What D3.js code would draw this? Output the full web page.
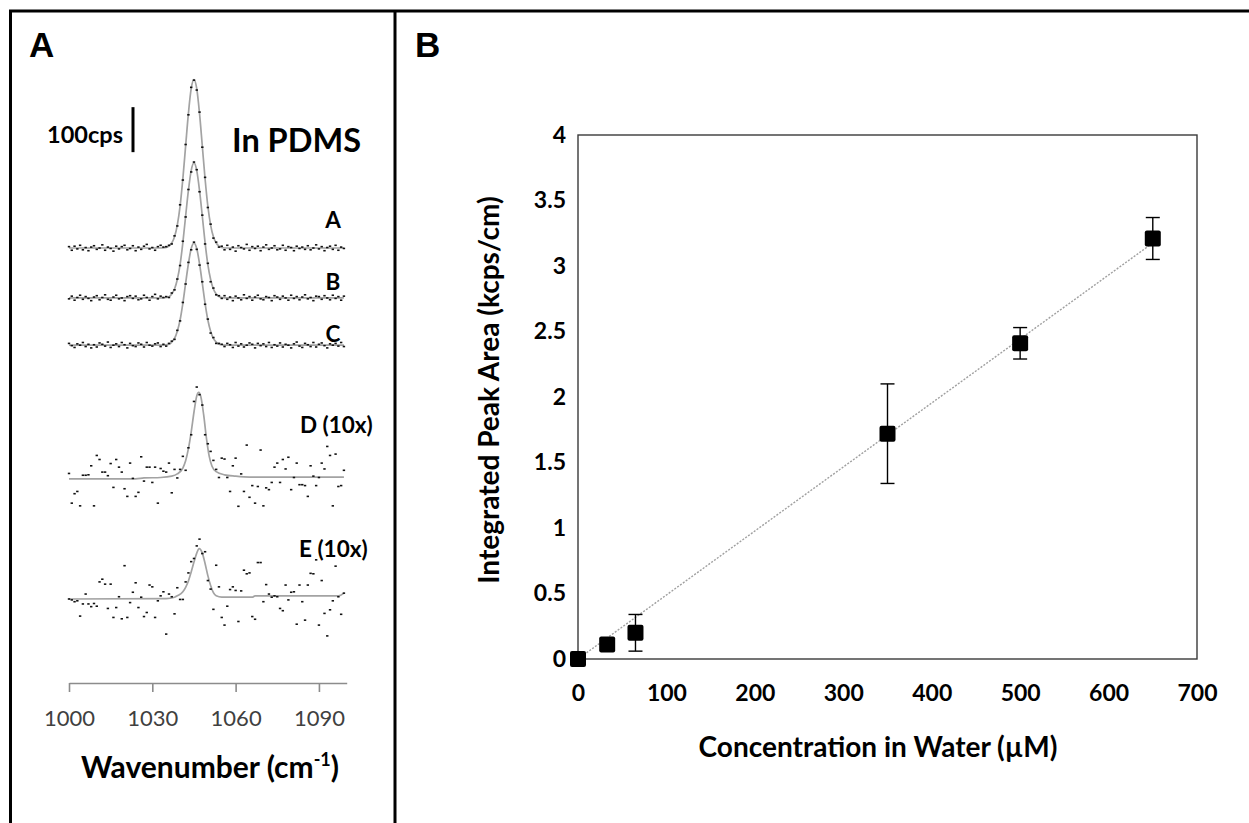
<!DOCTYPE html>
<html>
<head>
<meta charset="utf-8">
<script src="https://cdn.jsdelivr.net/npm/d3@7"></script>
<style>
  body { margin: 0; background: #fff; }
  svg { display: block; }
</style>
</head>
<body>
<svg id="fig" width="1249" height="823"></svg>
<script>
// ---------------- Panel A: Raman spectra in PDMS ----------------
const wavenumbers = d3.range(1000, 1100);          // cm-1, 1 cm-1 sampling
const waveTicks = [1000, 1030, 1060, 1090];

// measured intensities (cps) per spectrum
const specA = [3,-5,4,-2,6,-4,1,-6,2,5,
  -3,0,7,-5,2,-1,-7,4,-2,3,
  6,-4,-1,5,-6,2,-3,4,8,-2,
  1,-5,3,6,2,3,6,9,27,49,
  96,151,230,296,357,373,351,302,224,157,
  90,53,22,13,2,4,-4,6,-3,2,
  -7,5,1,-2,8,-5,3,-1,4,-6,
  2,7,-3,0,5,-4,-2,6,-5,3,
  1,-6,4,-1,2,-3,5,-4,0,7,
  -2,3,-6,1,4,-3,6,-5,2,-1];
const specB = [-2,4,-5,1,6,-3,3,-1,-6,2,
  5,-4,1,7,-3,-5,2,6,-2,0,
  -6,3,5,-1,4,-4,-2,6,1,-5,
  3,8,-2,4,1,3,1,11,18,42,
  72,126,180,241,280,302,285,236,184,120,
  77,36,22,7,5,-1,5,-3,2,-6,
  4,0,-4,7,-1,3,-5,2,6,-2,
  -4,3,1,-6,5,2,-3,4,0,-5,
  6,-1,3,-4,2,7,-2,1,-6,4,
  3,-3,5,0,-4,6,-1,3,-5,4];
const specC = [4,-1,-5,3,0,6,-3,2,-6,1,
  -4,5,2,-2,7,-5,0,3,-3,6,
  1,-6,4,-1,-3,5,2,-4,6,0,
  -2,3,5,-3,2,-2,4,9,13,33,
  54,95,136,184,212,229,213,178,141,91,
  58,27,17,4,4,2,-3,4,1,-5,
  6,-2,3,-4,0,5,2,-6,4,-1,
  3,-3,6,-5,1,-2,5,-4,2,0,
  -6,3,7,-2,-5,4,1,-3,6,-4,
  2,5,-1,-6,3,0,4,-2,6,-3];
const specD = [1.0,-5.6,-3.5,-3.0,-6.2,0.6,0.6,0.7,2.7,-6.2,
  5.0,4.1,1.3,1.3,0.5,3.2,-2.1,4.1,2.4,1.3,
  -2.4,-4.1,3.3,-0.1,-4.1,-3.2,4.7,-0.7,2.4,2.4,
  -1.0,2.4,-5.6,2.1,1.5,1.3,3.3,-3.3,1.9,0.0,
  1.9,4.8,1.7,6.7,9.6,17.0,20.2,18.5,16.2,9.6,
  7.6,5.9,3.9,1.9,0.1,4.4,4.2,0.1,-3.0,2.7,
  4.4,-6.3,0.9,-3.0,7.3,-4.3,-1.7,-5.6,-1.9,6.2,
  -6.2,-2.2,-2.6,-1.0,2.4,3.3,-1.0,4.1,2.0,4.6,
  -2.6,0.1,3.3,-1.5,-1.5,-1.7,-4.1,2.7,0.4,-1.7,
  0.1,3.3,2.0,7.0,5.0,-6.2,5.3,-1.9,-1.7,1.7];
const specE = [0.0,-0.2,-0.6,-0.4,-3.8,-1.1,1.1,-1.1,-1.7,-1.0,
  -1.6,3.8,4.4,3.3,-2.1,3.3,-4.1,-1.9,0.5,-4.4,
  7.4,-4.1,-0.8,1.5,3.6,-1.9,0.4,-3.9,-3.0,3.1,
  2.7,-4.1,-0.4,0.7,1.6,-7.8,1.1,0.5,-3.3,2.5,
  -0.1,-0.1,3.8,5.8,8.3,9.0,11.8,13.3,10.1,10.5,
  4.1,2.2,-2.3,7.5,2.7,-4.1,-5.8,-1.6,2.1,2.7,
  1.9,-5.0,1.8,6.4,5.6,5.8,-3.9,-4.5,8.1,8.1,
  -0.6,3.2,1.1,0.4,0.7,0.5,-2.1,-2.6,3.1,-0.2,
  1.5,1.6,-5.6,3.1,-0.6,-4.7,3.1,5.7,5.6,8.7,
  -5.8,4.1,-3.2,-8.2,-2.4,-0.4,7.3,0.5,-3.4,1.3];

// fitted peak profiles: [wavenumber, cps]
const fitA = [[1000,0],[1034,0],[1035,1],[1036,4],[1037,11],[1038,25],[1039,51],[1040,93],[1041,154],[1042,227],[1043,299],[1044,354],[1045,374],[1046,354],[1047,299],[1048,227],[1049,154],[1050,93],[1051,51],[1052,25],[1053,11],[1054,4],[1055,1],[1056,0],[1099,0]];
const fitB = [[1000,0],[1034,0],[1035,1],[1036,3],[1037,9],[1038,20],[1039,41],[1040,74],[1041,123],[1042,182],[1043,239],[1044,283],[1045,300],[1046,283],[1047,239],[1048,182],[1049,123],[1050,74],[1051,41],[1052,20],[1053,9],[1054,3],[1055,1],[1056,0],[1099,0]];
const fitC = [[1000,0],[1034,0],[1035,1],[1036,2],[1037,7],[1038,15],[1039,31],[1040,56],[1041,93],[1042,138],[1043,181],[1044,215],[1045,227],[1046,215],[1047,181],[1048,138],[1049,93],[1050,56],[1051,31],[1052,15],[1053,7],[1054,2],[1055,1],[1056,0],[1099,0]];
const fitD = [[1000,-0.2],[1024,-0.2],[1027,0],[1033,0.1],[1037,0.4],[1039,0.9],[1041,2.2],[1042,3.8],[1043,6.5],[1044,10.2],[1045,14.6],[1046,18.2],[1046.7,19.0],[1047.5,18.0],[1048.5,14.0],[1049.5,8.8],[1050.5,4.8],[1051.5,2.6],[1053,1.4],[1056,0.7],[1060,0.4],[1065,0.2],[1099,0.2]];
const fitE = [[1000,0],[1035,0.1],[1038,0.4],[1039,0.7],[1041,1.6],[1042,2.6],[1043,4.0],[1044,6.0],[1045,8.2],[1046,10.2],[1046.9,11.2],[1048,10.2],[1049,7.9],[1050,5.2],[1051,3.0],[1052,1.4],[1053,0.7],[1055,0.4],[1066,0.4],[1067,0.7],[1097,0.7],[1099,1.3]];

const spectrumNames = ["A", "B", "C", "D (10x)", "E (10x)"];
const magnification = [1, 1, 1, 10, 10];
const stackOffset = [780, 669, 564, 269, 0];       // cps, vertical stacking
const scaleBarCps = 100;

// ---------------- Panel B: calibration ----------------
const concentration = [0, 33, 65, 350, 500, 650];          // µM
const peakArea = [0, 0.11, 0.20, 1.72, 2.41, 3.21];         // kcps/cm
const peakAreaErr = [0.01, 0.02, 0.14, 0.38, 0.12, 0.16];
const concTicks = [0, 100, 200, 300, 400, 500, 600, 700];
const areaTicks = [0, 0.5, 1, 1.5, 2, 2.5, 3, 3.5, 4];

// ---------------- drawing ----------------
const svg = d3.select("#fig");
const FONT = "Lato, 'Open Sans', 'DejaVu Sans', sans-serif";

// figure frame
svg.append("path")
  .attr("d", "M9,11H1249M10.5,10V823M395,10V823")
  .attr("fill", "none").attr("stroke", "#000").attr("stroke-width", 3);

// panel letters
[["A", 29], ["B", 415]].forEach(([t, x]) => {
  svg.append("text").attr("x", x).attr("y", 57).text(t)
    .attr("font-family", "'Liberation Sans', Arial, sans-serif")
    .attr("font-weight", 700).attr("font-size", 35);
});

// ---- Panel A ----
const xA = d3.scaleLinear().domain([1000, 1100]).range([69, 346.7]);
const yA = d3.scaleLinear().domain([0, 1000]).range([599, 149]);

const gA = svg.append("g");
const spectra = [specA, specB, specC, specD, specE];
const fits = [fitA, fitB, fitC, fitD, fitE];
const labelPos = [[333, 228, "middle"], [333, 290, "middle"], [333, 342, "middle"], [300, 433, "start"], [299, 557, "start"]];

spectra.forEach((vals, i) => {
  const off = stackOffset[i], mag = magnification[i];
  const line = d3.line()
    .x(d => xA(d[0]))
    .y(d => yA(off + d[1] * mag))
    .curve(d3.curveMonotoneX);
  gA.append("path").datum(fits[i]).attr("d", line)
    .attr("fill", "none").attr("stroke", "#a3a3a3").attr("stroke-width", 1.7);
  gA.append("g").selectAll("rect").data(vals).join("rect")
    .attr("x", (d, j) => xA(wavenumbers[j]) - 1.2)
    .attr("y", d => yA(off + d * mag) - 0.8)
    .attr("width", 2.4).attr("height", 1.6)
    .attr("fill", "#111");
  const [lx, ly, anchor] = labelPos[i];
  gA.append("text").attr("x", lx).attr("y", ly).attr("text-anchor", anchor)
    .attr("font-family", FONT).attr("font-weight", 700).attr("font-size", 22.5)
    .text(spectrumNames[i]);
});

// intensity scale bar
gA.append("line")
  .attr("x1", 133).attr("x2", 133)
  .attr("y1", yA(993)).attr("y2", yA(993 + scaleBarCps))
  .attr("stroke", "#000").attr("stroke-width", 3);
gA.append("text").attr("x", 123).attr("y", 143).attr("text-anchor", "end")
  .attr("font-family", FONT).attr("font-weight", 700).attr("font-size", 23.5)
  .text(scaleBarCps + "cps");
gA.append("text").attr("x", 232).attr("y", 152)
  .attr("font-family", FONT).attr("font-weight", 700).attr("font-size", 32.5)
  .text("In PDMS");

// wavenumber axis
const axA = gA.append("g").attr("transform", "translate(0,683)")
  .call(d3.axisBottom(xA).tickValues(waveTicks).tickSize(9).tickSizeOuter(0)
    .tickPadding(18).tickFormat(d3.format("d")));
axA.select(".domain").attr("stroke", "#8c8c8c").attr("stroke-width", 1.6);
axA.selectAll(".tick line").attr("stroke", "#8c8c8c").attr("stroke-width", 1.6);
axA.selectAll(".tick text").attr("font-family", FONT).attr("font-size", 22).attr("fill", "#404040");

const tA = gA.append("text").attr("x", 210).attr("y", 778).attr("text-anchor", "middle")
  .attr("font-family", FONT).attr("font-weight", 700).attr("font-size", 30);
tA.append("tspan").text("Wavenumber (cm");
tA.append("tspan").attr("font-size", 18).attr("dy", -12).text("-1");
tA.append("tspan").attr("dy", 12).text(")");

// ---- Panel B ----
const xB = d3.scaleLinear().domain([0, 700]).range([578, 1197]);
const yB = d3.scaleLinear().domain([0, 4]).range([659, 135]);
const gB = svg.append("g");

gB.append("rect")
  .attr("x", xB(0)).attr("y", yB(4))
  .attr("width", xB(700) - xB(0)).attr("height", yB(0) - yB(4))
  .attr("fill", "none").attr("stroke", "#3a3a3a").attr("stroke-width", 1.4);

const axBy = gB.append("g").attr("transform", `translate(${xB(0)},0)`)
  .call(d3.axisLeft(yB).tickValues(areaTicks).tickSize(0).tickPadding(12).tickFormat(d3.format("~g")));
axBy.select(".domain").remove();
axBy.selectAll(".tick text").attr("font-family", FONT).attr("font-weight", 700)
  .attr("font-size", 23).attr("fill", "#000");

const axBx = gB.append("g").attr("transform", `translate(0,${yB(0)})`)
  .call(d3.axisBottom(xB).tickValues(concTicks).tickSize(0).tickPadding(26).tickFormat(d3.format("d")));
axBx.select(".domain").remove();
axBx.selectAll(".tick text").attr("font-family", FONT).attr("font-weight", 700)
  .attr("font-size", 23).attr("fill", "#000");

// linear fit through the origin
const slope = d3.sum(concentration, (c, i) => c * peakArea[i]) / d3.sum(concentration, c => c * c);
const cMax = d3.max(concentration);
gB.append("line")
  .attr("x1", xB(0)).attr("y1", yB(0))
  .attr("x2", xB(cMax)).attr("y2", yB(slope * cMax))
  .attr("stroke", "#a0a0a0").attr("stroke-width", 1.4).attr("stroke-dasharray", "2,1.5");

// error bars
const eb = gB.append("g").attr("stroke", "#000").attr("stroke-width", 1.4);
concentration.forEach((c, i) => {
  const x = xB(c), y0 = yB(peakArea[i] - peakAreaErr[i]), y1 = yB(peakArea[i] + peakAreaErr[i]);
  eb.append("line").attr("x1", x).attr("x2", x).attr("y1", y0).attr("y2", y1);
  eb.append("line").attr("x1", x - 7).attr("x2", x + 7).attr("y1", y0).attr("y2", y0);
  eb.append("line").attr("x1", x - 7).attr("x2", x + 7).attr("y1", y1).attr("y2", y1);
});

// markers
gB.append("g").selectAll("rect").data(concentration).join("rect")
  .attr("x", d => xB(d) - 8)
  .attr("y", (d, i) => yB(peakArea[i]) - 8)
  .attr("width", 16).attr("height", 16).attr("rx", 2)
  .attr("fill", "#000");

// axis titles
gB.append("text").attr("x", 878).attr("y", 757).attr("text-anchor", "middle")
  .attr("font-family", FONT).attr("font-weight", 700).attr("font-size", 28)
  .text("Concentration in Water (µM)");
gB.append("text").attr("transform", "translate(499,390) rotate(-90)")
  .attr("text-anchor", "middle")
  .attr("font-family", FONT).attr("font-weight", 700).attr("font-size", 28)
  .text("Integrated Peak Area (kcps/cm)");
</script>
</body>
</html>
